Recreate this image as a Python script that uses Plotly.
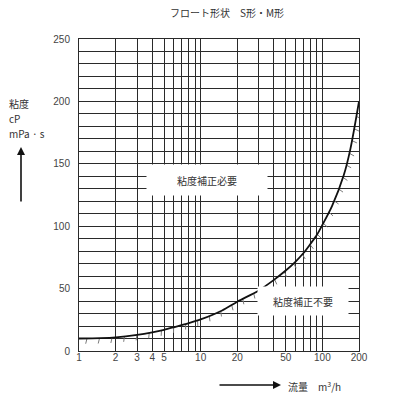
import numpy as np
import plotly.graph_objects as go

# ---- data ----
flow = [1, 1.5, 2, 3, 4, 5, 6, 8, 10, 15, 20, 30, 40, 50, 60, 70, 80, 90, 100, 120, 150, 170, 200]
visc = [10, 10.3, 10.9, 12.9, 15, 17, 19, 22.3, 25.3, 32.5, 39.5, 48.5, 57, 64.5, 71.5, 78.5, 86, 93, 101, 116, 141, 162, 200]

x_grid = [1, 2, 3, 4, 5, 6, 7, 8, 9, 10, 20, 30, 40, 50, 60, 70, 80, 90, 100, 200]
x_labels = ["1", "2", "3", "4", "5", "", "", "", "", "10", "20", "", "", "50", "", "", "", "", "100", "200"]
y_major = [0, 50, 100, 150, 200, 250]

title_text = "フロート形状　S形・M形"
region_need = "粘度補正必要"
region_noneed = "粘度補正不要"
ylab_lines = ["粘度", "cP", "mPa · s"]
xlab_text = "流量　m<sup>3</sup>/h"

# ---- layout geometry (px, page has an 8px body margin) ----
OFF = 8
W, H = 400 - OFF, 395 - OFF
ml, mr, mt, mb = 79 - OFF, 41, 39 - OFF, 52 - OFF
PW, PH = W - ml - mr, H - mt - mb
XMAX = 200.0
YMAX = 250.0

def fx(xpage):
    return (xpage - OFF - ml) / PW

def fy(ypage):
    return (H - mb - (ypage - OFF)) / PH

def px(xv, yv):
    return np.log10(xv) / np.log10(XMAX) * PW, np.asarray(yv) / YMAX * PH

def unpx(u, v):
    return 10 ** (u / PW * np.log10(XMAX)), v / PH * YMAX

# hatch marks along the curve (derived from the curve data)
lx = np.log10(flow)
dense_l = np.linspace(lx[0], lx[-1], 3000)
dense_y = np.interp(dense_l, lx, visc)
u, v = px(10 ** dense_l, dense_y)
seg = np.hypot(np.diff(u), np.diff(v))
s = np.concatenate([[0], np.cumsum(seg)])
hx, hy = [], []
step, L = 12.5, 5.5
for sv in np.arange(8, s[-1] - 4, step):
    i = np.searchsorted(s, sv)
    i = min(max(i, 3), len(u) - 4)
    du, dv = u[i + 3] - u[i - 3], v[i + 3] - v[i - 3]
    n = np.hypot(du, dv)
    tu, tv = du / n, dv / n
    nu, nv = tv, -tu
    ang = np.deg2rad(-15)
    ru = nu * np.cos(ang) - nv * np.sin(ang)
    rv = nu * np.sin(ang) + nv * np.cos(ang)
    u0, v0 = u[i], v[i]
    u1, v1 = u0 + ru * L, v0 + rv * L
    a = unpx(np.array([u0, u1]), np.array([v0, v1]))
    hx += [a[0][0], a[0][1], None]
    hy += [a[1][0], a[1][1], None]

fig = go.Figure()
fig.add_trace(go.Scatter(x=hx, y=hy, mode="lines",
                         line=dict(color="#7a7a7a", width=1), hoverinfo="skip", showlegend=False))
fig.add_trace(go.Scatter(x=flow, y=visc, mode="lines",
                         line=dict(color="#111111", width=1.8, shape="spline", smoothing=0.8),
                         showlegend=False))

grid_c = "#2a2a2a"
tickfont = dict(family="Liberation Sans, Arial", size=10, color="#444444")
fig.update_xaxes(type="log", range=[0, np.log10(XMAX)], tickvals=x_grid, ticktext=x_labels,
                 showgrid=True, gridcolor=grid_c, gridwidth=1, ticks="", tickfont=tickfont,
                 ticklabelstandoff=-3,
                 showline=True, linecolor=grid_c, linewidth=1, mirror=True, zeroline=False)
fig.update_yaxes(range=[0, YMAX], tickvals=y_major, showgrid=True, gridcolor=grid_c, gridwidth=1,
                 minor=dict(dtick=10, showgrid=True, gridcolor=grid_c, gridwidth=1),
                 ticks="", tickfont=tickfont, ticklabelstandoff=6,
                 showline=True, linecolor=grid_c, linewidth=1, mirror=True, zeroline=False)

jp = "Noto Sans CJK JP"
txtc = "#333333"
ann = []
ann.append(dict(text=title_text, xref="paper", yref="paper", x=fx(227), y=fy(12),
                showarrow=False, font=dict(family=jp, size=10, color=txtc), xanchor="center", yanchor="middle"))
ann.append(dict(text=region_need, xref="paper", yref="paper", x=fx(207), y=fy(180),
                showarrow=False, font=dict(family=jp, size=10, color=txtc), bgcolor="white",
                width=118, height=28, borderpad=1, xanchor="center", yanchor="middle"))
ann.append(dict(text=region_noneed, xref="paper", yref="paper", x=fx(303), y=fy(301),
                showarrow=False, font=dict(family=jp, size=10, color=txtc), bgcolor="white",
                width=88, height=26, borderpad=1, xanchor="center", yanchor="middle"))
for t, yy in zip(ylab_lines, [103, 118, 133]):
    ann.append(dict(text=t, xref="paper", yref="paper", x=fx(7), y=fy(yy),
                    showarrow=False, font=dict(family=jp, size=10, color=txtc), xanchor="left", yanchor="middle"))
ann.append(dict(text=xlab_text, xref="paper", yref="paper", x=fx(286), y=fy(386),
                showarrow=False, font=dict(family=jp, size=10, color=txtc), xanchor="left", yanchor="middle"))
# arrows
ann.append(dict(text="", xref="paper", yref="paper", x=fx(21), y=fy(147),
                ax=0, ay=56, showarrow=True, arrowhead=2, arrowsize=1, arrowwidth=1.6,
                arrowcolor="#111111", standoff=0))
ann.append(dict(text="", xref="paper", yref="paper", x=fx(281), y=fy(385),
                ax=-63, ay=0, showarrow=True, arrowhead=2, arrowsize=1, arrowwidth=1.6,
                arrowcolor="#111111", standoff=0))

fig.update_layout(width=W, height=H, margin=dict(l=ml, r=mr, t=mt, b=mb),
                  paper_bgcolor="white", plot_bgcolor="white", annotations=ann,
                  showlegend=False)
fig.write_html("out.html")
